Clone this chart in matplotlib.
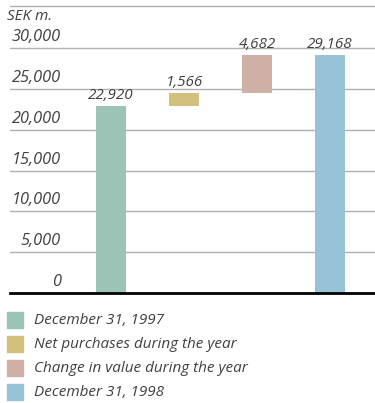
import matplotlib
matplotlib.use("Agg")
import matplotlib.pyplot as plt
from matplotlib.patches import Rectangle
import matplotlib.transforms as mtransforms

plt.rcParams['font.family'] = ['Open Sans', 'DejaVu Sans']

# Data (SEK m.)
categories = ["December 31, 1997", "Net purchases during the year",
              "Change in value during the year", "December 31, 1998"]
values = [22920, 1566, 4682, 29168]
colors = ["#9cc4b6", "#d3c07f", "#cfb0a5", "#96c3d5"]
ytick_values = [0, 5000, 10000, 15000, 20000, 25000, 30000]
ytick_labels = ["0", "5,000", "10,000", "15,000", "20,000", "25,000", "30,000"]
value_labels = ["22,920", "1,566", "4,682", "29,168"]

# Waterfall bottoms: opening balance, two changes stacked, closing balance
bottoms = [0, values[0], values[0] + values[1], 0]

W, H = 375, 403
fig = plt.figure(figsize=(W / 100, H / 100), dpi=100)

ax = fig.add_axes([10 / W, 110 / H, 365 / W, 287 / H])
ax.set_xlim(-1.384, 3.616)
ax.set_ylim(0, 35143)
for s in ["left", "right"]:
    ax.spines[s].set_visible(False)
ax.spines["top"].set_color("#b0b0b0")
ax.spines["top"].set_linewidth(1.0)
ax.spines["bottom"].set_color("black")
ax.spines["bottom"].set_linewidth(2.0)
ax.set_xticks([])
ax.set_yticks([])

text_color = "#404040"
fs = 11

for v in ytick_values[1:]:
    ax.axhline(v, color="#b0b0b0", linewidth=1.0, zorder=0)

trans = mtransforms.blended_transform_factory(fig.transFigure, ax.transData)
offset = mtransforms.ScaledTranslation(0, 3 / 100, fig.dpi_scale_trans)
for v, lab in zip(ytick_values, ytick_labels):
    ax.text(61 / W, v, lab, transform=trans + offset, ha="right", va="bottom",
            fontsize=11.8, style="italic", color=text_color, clip_on=False)

xs = list(range(len(values)))
ax.bar(xs, values, bottom=bottoms, width=30 / 73, color=colors, zorder=2)

for x, v, b, lab in zip(xs, values, bottoms, value_labels):
    ax.text(x, b + v, lab, transform=ax.transData + offset, ha="center",
            va="bottom", fontsize=fs, style="italic", color=text_color)

fig.text(7 / W, 1 - 17 / H, "SEK m.", ha="left", va="center", fontsize=fs,
         style="italic", color=text_color)

# Legend drawn as squares with labels
for i, (lab, c) in enumerate(zip(categories, colors)):
    yc = 320 + 24 * i
    fig.patches.append(Rectangle((7 / W, 1 - (yc + 8) / H), 16 / W, 16 / H,
                                 transform=fig.transFigure, color=c))
    fig.text(34 / W, 1 - yc / H, lab, ha="left", va="center", fontsize=fs,
             style="italic", color=text_color)

fig.savefig("out.png", dpi=100)
